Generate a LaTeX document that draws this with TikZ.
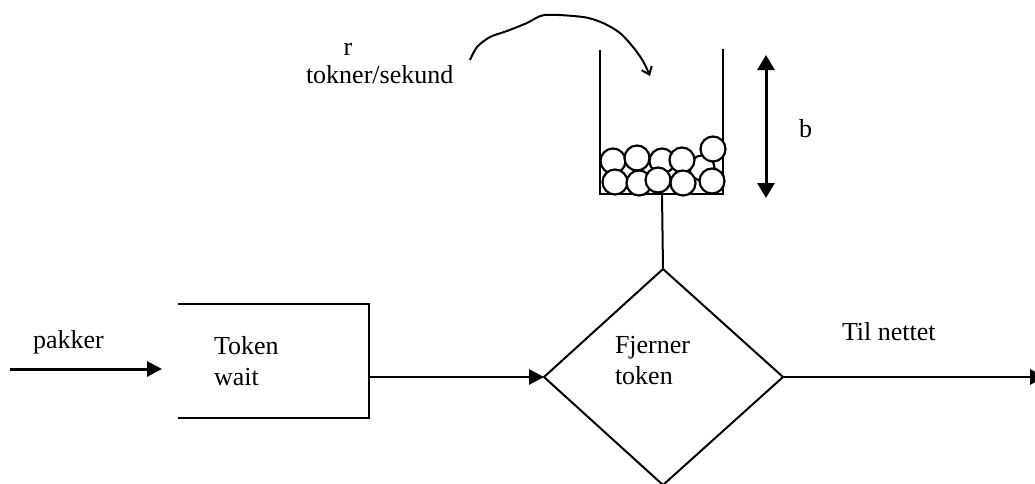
\documentclass[tikz,border=0pt]{standalone}
\usepackage{fontspec}
\setmainfont{Liberation Serif}
\usetikzlibrary{arrows.meta}
\begin{document}
\begin{tikzpicture}[x=1pt,y=-1pt,line width=2pt,
  lbl/.style={font=\fontsize{26}{30}\selectfont, inner sep=0pt},
  tri/.style={-{Triangle[length=15pt,width=15pt]}},
  ball/.style={draw, fill=white, line width=2.2pt},
  thin/.style={line width=2pt}]
\useasboundingbox (0,0) rectangle (1035,483);
% bucket
\coordinate (BTL) at (600,50);
\coordinate (BBL) at (600,194);
\coordinate (BBR) at (723,194);
\coordinate (BTR) at (723,49);
\coordinate (BB) at (662,194);
\draw[thin] (BTL) -- (BBL) -- (BBR) -- (BTR);
% balls (top row)
\foreach \x/\y in {613/161, 637/158, 662/161, 702/168, 682/160, 713/149}
  \draw[ball] (\x,\y) circle (12.5pt);
% balls (bottom row)
\foreach \x/\y in {615/182, 639/183, 683/183, 658/180, 712/181}
  \draw[ball] (\x,\y) circle (12.5pt);
% diamond
\coordinate (DT) at (663,269);
\coordinate (DL) at (544,377);
\coordinate (DR) at (783,377);
\coordinate (DB) at (663,485);
\draw[thin] (DT) -- (DR) -- (DB) -- (DL) -- cycle;
\draw[thin] (BB) -- (DT);
% token wait box
\coordinate (TW1) at (178,304);
\coordinate (TW2) at (369,304);
\coordinate (TW3) at (369,418);
\coordinate (TW4) at (178,418);
\coordinate (TWR) at (369,377);
\draw[thin] (TW1) -- (TW2) -- (TW3) -- (TW4);
% arrows
\coordinate (PIN) at (10,369);
\coordinate (PEND) at (162,369);
\draw[tri, line width=3pt] (PIN) -- (PEND);
\draw[tri, line width=2.8pt] (TWR) -- (DL);
\coordinate (OUT) at (1045,377);
\draw[tri, line width=2.8pt] (DR) -- (OUT);
% b arrow
\coordinate (BA1) at (766,55);
\coordinate (BA2) at (766,198);
\draw[{Triangle[length=15pt,width=17pt]}-{Triangle[length=15pt,width=17pt]}, line width=3pt] (BA1) -- (BA2);
% curved arrow
\coordinate (CS) at (470,60);
\coordinate (CE) at (650,76);
\draw[line width=2pt, -{Straight Barb[length=7pt,width=11pt]}] plot[smooth, tension=0.5] coordinates {(CS) (477,47) (490,37) (507,31) (527,23) (545,15) (583,17) (603,23) (620,33) (633,47) (643,61) (CE)};
% labels
\node[lbl, anchor=base] (r) at (348,55) {r};
\node[lbl, anchor=base west] (rate) at (305,83) {tokner/sekund};
\node[lbl, anchor=base west] (b) at (798,137) {b};
\node[lbl, anchor=base west] (pakker) at (32,348) {pakker};
\node[lbl, anchor=base west] (token) at (213,354) {Token};
\node[lbl, anchor=base west] (wait) at (213,385) {wait};
\node[lbl, anchor=base west] (fj) at (614,353) {Fjerner};
\node[lbl, anchor=base west] (tk) at (614,384) {token};
\node[lbl, anchor=base west] (til) at (841,340) {Til nettet};
\end{tikzpicture}
\end{document}
